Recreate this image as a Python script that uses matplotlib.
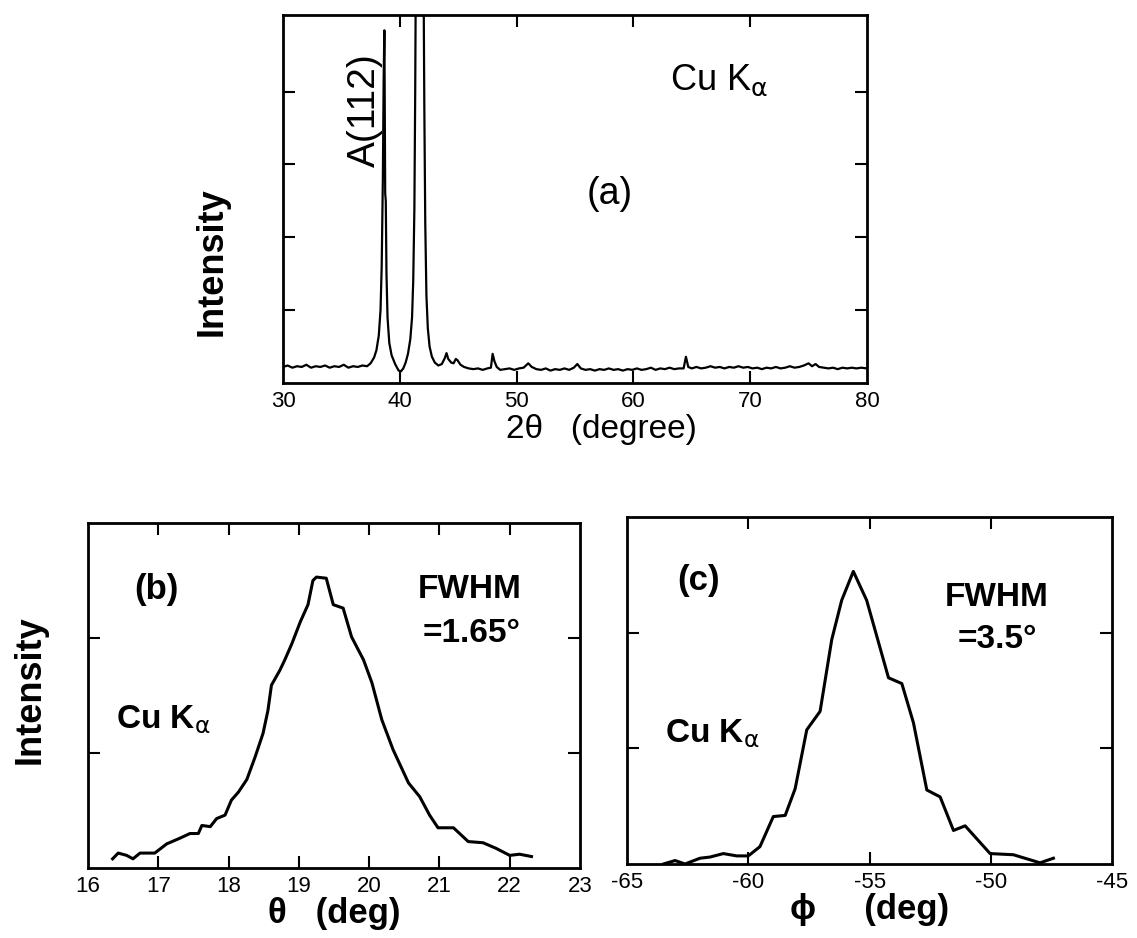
import matplotlib
matplotlib.use('Agg')
import matplotlib.pyplot as plt

plt.rcParams['font.family'] = ['Liberation Sans', 'DejaVu Sans']
plt.rcParams['mathtext.fontset'] = 'dejavusans'
plt.rcParams['axes.unicode_minus'] = False

# (a) XRD scan, 2theta vs intensity (arbitrary units)
a_x = [30.0, 30.4, 30.8, 31.2, 31.6, 32.0, 32.4, 32.8, 33.2, 33.6, 34.0, 34.4, 34.8, 35.2,
       35.6, 36.0, 36.4, 36.8, 37.2, 37.5, 37.8, 38.0, 38.2, 38.35, 38.45, 38.55, 38.62,
       38.68, 38.72, 38.75, 38.8, 38.86, 38.95, 39.1, 39.3, 39.6, 39.9, 40.1, 40.3, 40.5,
       40.7, 40.9, 41.05, 41.15, 41.25, 41.32, 41.4, 41.55, 41.7, 41.85, 42.0, 42.1, 42.18,
       42.28, 42.4, 42.55, 42.75, 43.0, 43.3, 43.6, 43.85, 44.0, 44.15, 44.4, 44.6, 44.8,
       44.95, 45.2, 45.5, 45.9, 46.3, 46.7, 47.1, 47.5, 47.8, 47.95, 48.1, 48.3, 48.6, 49.0,
       49.4, 49.8, 50.2, 50.6, 51.0, 51.3, 51.7, 52.1, 52.5, 52.9, 53.3, 53.7, 54.1, 54.5,
       54.9, 55.2, 55.5, 55.9, 56.3, 56.7, 57.1, 57.5, 57.9, 58.3, 58.7, 59.1, 59.5, 59.9,
       60.3, 60.7, 61.1, 61.5, 61.9, 62.3, 62.7, 63.1, 63.5, 63.9, 64.3, 64.5, 64.7, 65.0,
       65.4, 65.8, 66.2, 66.6, 67.0, 67.4, 67.8, 68.2, 68.6, 69.0, 69.4, 69.8, 70.2, 70.6,
       71.0, 71.4, 71.8, 72.2, 72.6, 73.0, 73.4, 73.8, 74.2, 74.6, 75.0, 75.3, 75.6, 75.9,
       76.3, 76.7, 77.1, 77.5, 77.9, 78.3, 78.7, 79.1, 79.5, 80.0]
a_y = [0.22, 0.24, 0.21, 0.23, 0.22, 0.25, 0.21, 0.23, 0.22, 0.24, 0.21, 0.23, 0.22, 0.25,
       0.21, 0.23, 0.22, 0.24, 0.23, 0.27, 0.35, 0.45, 0.65, 1.0, 1.6, 2.8, 4.2,
       4.84, 3.6, 2.6, 2.5, 1.5, 0.9, 0.55, 0.38, 0.26, 0.17, 0.16, 0.2, 0.28,
       0.4, 0.6, 0.9, 1.4, 2.4, 4.0, 6.5, 10.0, 12.0, 10.0, 6.5, 3.8, 2.2,
       1.2, 0.75, 0.5, 0.36, 0.28, 0.24, 0.26, 0.34, 0.41, 0.33, 0.28, 0.27, 0.33,
       0.31, 0.25, 0.22, 0.2, 0.19, 0.2, 0.18, 0.2, 0.21, 0.40, 0.30, 0.22, 0.18, 0.19,
       0.2, 0.18, 0.2, 0.21, 0.27, 0.22, 0.19, 0.18, 0.2, 0.17, 0.19, 0.18, 0.2, 0.18,
       0.21, 0.26, 0.2, 0.18, 0.19, 0.17, 0.19, 0.18, 0.2, 0.18, 0.19, 0.17, 0.19, 0.18,
       0.2, 0.18, 0.19, 0.21, 0.18, 0.2, 0.19, 0.21, 0.19, 0.2, 0.2, 0.36, 0.22, 0.2,
       0.22, 0.2, 0.21, 0.23, 0.21, 0.22, 0.2, 0.22, 0.21, 0.23, 0.21, 0.22, 0.2, 0.21,
       0.19, 0.21, 0.2, 0.22, 0.2, 0.21, 0.23, 0.21, 0.22, 0.24, 0.27, 0.23, 0.26, 0.22,
       0.21, 0.2, 0.21, 0.19, 0.21, 0.2, 0.21, 0.2, 0.21, 0.2]

# (b) theta rocking curve
b_x = [16.35, 16.43, 16.55, 16.64, 16.74, 16.95, 17.12, 17.31, 17.45, 17.57, 17.62, 17.74,
       17.83, 17.95, 18.04, 18.14, 18.26, 18.38, 18.49, 18.56, 18.61, 18.73, 18.80, 18.90,
       19.02, 19.13, 19.20, 19.25, 19.39, 19.49, 19.63, 19.75, 19.92, 20.04, 20.18, 20.34,
       20.56, 20.72, 20.86, 20.98, 21.20, 21.41, 21.62, 21.81, 22.00, 22.14, 22.31]
b_y = [0.08, 0.13, 0.11, 0.08, 0.13, 0.13, 0.21, 0.26, 0.30, 0.30, 0.37, 0.36,
       0.43, 0.46, 0.59, 0.66, 0.77, 0.97, 1.17, 1.37, 1.59, 1.72, 1.81, 1.95,
       2.14, 2.29, 2.50, 2.53, 2.52, 2.29, 2.26, 2.01, 1.81, 1.61, 1.29, 1.03,
       0.74, 0.62, 0.46, 0.35, 0.35, 0.23, 0.22, 0.17, 0.11, 0.12, 0.10]

# (c) phi scan
c_x = [-63.50, -63.02, -62.61, -61.99, -61.58, -61.03, -60.48, -60.00, -59.52, -58.97,
       -58.48, -58.07, -57.59, -57.04, -56.56, -56.15, -55.67, -55.12, -54.22, -53.67,
       -53.19, -52.64, -52.09, -51.54, -51.06, -50.03, -49.07, -47.97, -47.42]
c_y = [0.00, 0.03, 0.00, 0.05, 0.06, 0.09, 0.07, 0.07, 0.15, 0.41,
       0.42, 0.65, 1.16, 1.32, 1.94, 2.28, 2.53, 2.28, 1.61, 1.56,
       1.22, 0.64, 0.58, 0.29, 0.33, 0.09, 0.08, 0.01, 0.05]

a_ticks = [30, 40, 50, 60, 70, 80]
a_ticklabels = ['30', '40', '50', '60', '70', '80']
b_ticks = [16, 17, 18, 19, 20, 21, 22, 23]
b_ticklabels = ['16', '17', '18', '19', '20', '21', '22', '23']
c_ticks = [-65, -60, -55, -50, -45]
c_ticklabels = ['-65', '-60', '-55', '-50', '-45']

fig = plt.figure(figsize=(11.37, 9.38), dpi=100)
ax_a = fig.add_axes([0.2489, 0.5917, 0.5136, 0.3923])
ax_b = fig.add_axes([0.0774, 0.0746, 0.4327, 0.3678])
ax_c = fig.add_axes([0.5515, 0.0789, 0.4266, 0.3699])


def style(ax, xticks, xlabels, yticks):
    for s in ax.spines.values():
        s.set_linewidth(2.0)
    ax.set_xticks(xticks)
    ax.set_xticklabels(xlabels)
    ax.set_yticks(yticks)
    ax.set_yticklabels([])
    ax.tick_params(direction='in', length=8.5, width=1.5, top=True, right=True,
                   labelsize=16, pad=6)
    # end ticks sit on the frame corners, hide them
    for t in (ax.xaxis.get_major_ticks()[0], ax.xaxis.get_major_ticks()[-1]):
        t.tick1line.set_visible(False)
        t.tick2line.set_visible(False)


# panel (a)
ax_a.plot(a_x, a_y, color='black', lw=1.6)
ax_a.set_xlim(30, 80)
ax_a.set_ylim(0, 5.05)
style(ax_a, a_ticks, a_ticklabels, [1, 2, 3, 4])
ax_a.set_xlabel('2θ   (degree)', fontsize=24)
ax_a.xaxis.set_label_coords(0.545, -0.085)
ax_a.xaxis.label.set_va('top')
ax_a.text(-0.122, 0.33, 'Intensity', rotation=90, ha='center', va='center',
          fontsize=26, fontweight='bold', transform=ax_a.transAxes)
ax_a.text(37.0, 3.74, 'A(112)', rotation=90, ha='center', va='center', fontsize=28)
ax_a.text(67.3, 4.15, r'Cu K$_\mathrm{\alpha}$', ha='center', va='center', fontsize=26)
ax_a.text(58.0, 2.6, '(a)', ha='center', va='center', fontsize=27)

# panel (b)
ax_b.plot(b_x, b_y, color='black', lw=2.2)
ax_b.set_xlim(16, 23)
ax_b.set_ylim(0, 3)
style(ax_b, b_ticks, b_ticklabels, [1, 2])
ax_b.set_xlabel('θ   (deg)', fontsize=25, fontweight='bold')
ax_b.xaxis.set_label_coords(0.5, -0.085)
ax_b.xaxis.label.set_va('top')
ax_b.text(-0.118, 0.516, 'Intensity', rotation=90, ha='center', va='center',
          fontsize=26, fontweight='bold', transform=ax_b.transAxes)
ax_b.text(16.98, 2.42, '(b)', ha='center', va='center', fontsize=25, fontweight='bold')
ax_b.text(21.43, 2.42, 'FWHM', ha='center', va='center', fontsize=24, fontweight='bold')
ax_b.text(21.46, 2.04, '=1.65°', ha='center', va='center', fontsize=24, fontweight='bold')
ax_b.text(17.07, 1.29, r'Cu K$_\mathrm{\alpha}$', ha='center', va='center', fontsize=24,
          fontweight='bold')

# panel (c)
ax_c.plot(c_x, c_y, color='black', lw=2.2)
ax_c.set_xlim(-65, -45)
ax_c.set_ylim(0, 3)
style(ax_c, c_ticks, c_ticklabels, [1, 2])
ax_c.set_xlabel('ϕ     (deg)', fontsize=25, fontweight='bold')
ax_c.xaxis.set_label_coords(0.5, -0.085)
ax_c.xaxis.label.set_va('top')
ax_c.text(-62.06, 2.45, '(c)', ha='center', va='center', fontsize=25, fontweight='bold')
ax_c.text(-49.75, 2.30, 'FWHM', ha='center', va='center', fontsize=24, fontweight='bold')
ax_c.text(-49.75, 1.94, '=3.5°', ha='center', va='center', fontsize=24, fontweight='bold')
ax_c.text(-61.5, 1.13, r'Cu K$_\mathrm{\alpha}$', ha='center', va='center', fontsize=24,
          fontweight='bold')

fig.savefig('out.png', dpi=100)
